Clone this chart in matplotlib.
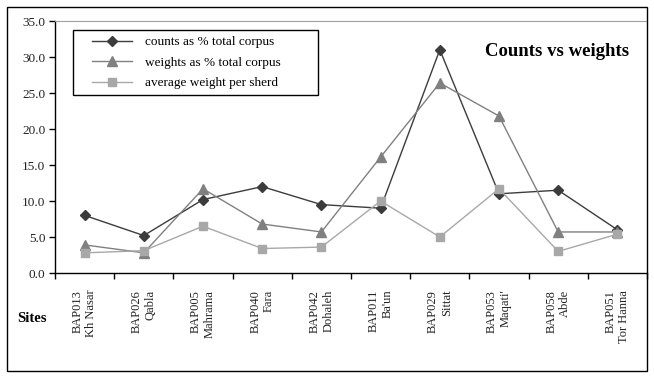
import numpy as np
import matplotlib.pyplot as plt
from matplotlib.patches import Rectangle

plt.rcParams['font.family'] = ['Liberation Serif', 'DejaVu Serif']

codes = ['BAP013', 'BAP026', 'BAP005', 'BAP040', 'BAP042',
         'BAP011', 'BAP029', 'BAP053', 'BAP058', 'BAP051']
names = ['Kh Nasar', 'Qabla', 'Mahrama', 'Fara', 'Dohaleh',
         "Ba'un", 'Sittat', "Maqati'", 'Abde', 'Tor Hanna']

counts = [8.0, 5.2, 10.2, 12.0, 9.5, 9.0, 31.0, 11.0, 11.5, 6.0]
weights = [3.9, 2.8, 11.7, 6.8, 5.7, 16.1, 26.4, 21.8, 5.7, 5.7]
avg_weight = [2.8, 3.1, 6.5, 3.4, 3.6, 10.0, 5.0, 11.7, 3.0, 5.4]

fig = plt.figure(figsize=(6.54, 3.78), dpi=100)
ax = fig.add_axes([55/654, 1-273/378, 592/654, 252/378])

x = np.arange(len(codes)) + 0.5
ax.plot(x, counts, color='#3c3c3c', lw=1, marker='D', ms=5,
        label='counts as % total corpus')
ax.plot(x, weights, color='#808080', lw=1, marker='^', ms=6.5,
        label='weights as % total corpus')
ax.plot(x, avg_weight, color='#a8a8a8', lw=1, marker='s', ms=6,
        label='average weight per sherd')

ax.set_xlim(0, 10)
ax.set_ylim(0, 35)
ax.set_yticks(np.arange(0, 36, 5))
ax.set_yticklabels(['%.1f' % v for v in np.arange(0, 36, 5)], fontsize=9.5,
                   color='#222222')
ax.tick_params(axis='y', length=4, width=1, pad=3)

ax.set_xticks(np.arange(0, 11))
ax.set_xticklabels([])
ax.tick_params(axis='x', which='major', length=4, width=1)
ax.set_xticks(x, minor=True)
ax.set_xticklabels([c + '\n' + n for c, n in zip(codes, names)], minor=True,
                   rotation=90, fontsize=9, va='top', ha='center',
                   multialignment='right', color='#222222')
ax.tick_params(axis='x', which='minor', length=0, pad=12)

ax.spines['right'].set_visible(False)
ax.spines['top'].set_color('#a0a0a0')
ax.spines['left'].set_linewidth(1)
ax.spines['bottom'].set_linewidth(1)

# legend box drawn separately so the entries can sit inset
ax.add_patch(Rectangle((0.030, 0.706), 0.414, 0.258, transform=ax.transAxes,
                       fill=False, edgecolor='black', lw=1, zorder=5))
ax.legend(loc='upper left', bbox_to_anchor=(0.0625, 0.94),
          fontsize=9.5, frameon=False, handlelength=3, handletextpad=1.0,
          labelspacing=0.62, borderpad=0, borderaxespad=0)

ax.text(0.97, 0.88, 'Counts vs weights', transform=ax.transAxes,
        ha='right', va='center', fontsize=13.5, fontweight='bold')

fig.text(17/654, 1-318/378, 'Sites', fontsize=10.5, fontweight='bold',
         va='center', ha='left')

fig.patches.append(Rectangle((7/654, 7/378), 640/654, 364/378,
                             transform=fig.transFigure, fill=False,
                             edgecolor='black', lw=1))

fig.savefig('out.png', dpi=100)
